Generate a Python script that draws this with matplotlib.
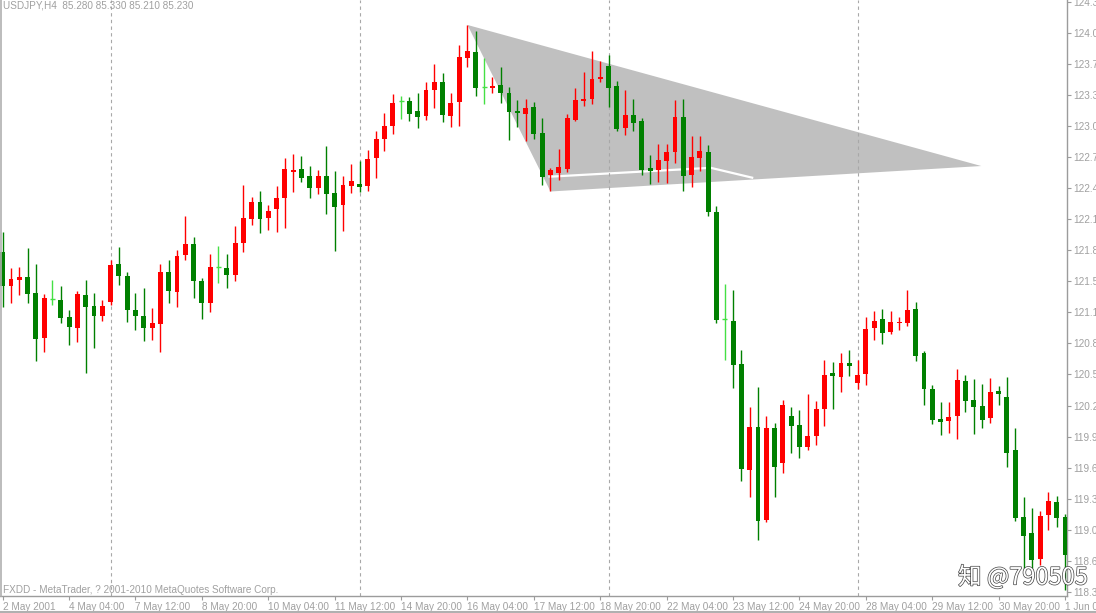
import matplotlib
matplotlib.use('Agg')
import matplotlib.pyplot as plt
import matplotlib.patheffects as pe
from matplotlib.patches import Polygon
from matplotlib.lines import Line2D
import numpy as np

# USDJPY H4 bars, 2 May 2001 .. 1 Jun 2001
opens = [121.80, 121.45, 121.51, 121.54, 121.38, 120.93, 121.32, 121.31, 121.14, 121.03,
         121.36, 121.25, 121.15, 121.29, 121.68, 121.55, 121.21, 121.15, 121.03, 121.07,
         121.59, 121.39, 121.77, 121.88, 121.50, 121.28, 121.64, 121.63, 121.56, 121.89,
         122.13, 122.30, 122.14, 122.23, 122.34, 122.61, 122.64, 122.57, 122.45, 122.57,
         122.39, 122.27, 122.47, 122.49, 122.47, 122.75, 122.94, 123.07, 123.33, 123.33,
         123.23, 123.17, 123.44, 123.52, 123.17, 123.32, 123.76, 123.82, 123.47, 123.46,
         123.49, 123.41, 123.23, 123.20, 123.27, 123.00, 122.58, 122.60, 122.64, 123.13,
         123.33, 123.35, 123.55, 123.68, 123.48, 123.05, 123.19, 123.12, 122.65, 122.63,
         122.72, 122.81, 123.16, 122.58, 122.75, 122.81, 122.20, 121.12, 121.10, 120.66,
         119.59, 120.02, 119.08, 120.01, 119.66, 120.14, 120.04, 119.82, 119.93, 120.21,
         120.57, 120.53, 120.67, 120.47, 120.56, 121.03, 121.12, 120.99, 121.08, 121.08,
         121.22, 120.77, 120.41, 120.11, 120.08, 120.14, 120.49, 120.30, 120.24, 120.12,
         120.39, 120.33, 119.79, 119.11, 118.95, 118.69, 119.13, 119.26, 119.11]
highs = [122.00, 121.63, 121.64, 121.84, 121.68, 121.37, 121.51, 121.45, 121.21, 121.40,
         121.51, 121.38, 121.31, 121.72, 121.85, 121.59, 121.38, 121.43, 121.23, 121.68,
         121.72, 121.82, 122.16, 121.95, 121.53, 121.78, 121.86, 121.78, 122.06, 122.48,
         122.35, 122.42, 122.27, 122.47, 122.75, 122.79, 122.77, 122.67, 122.63, 122.87,
         122.62, 122.57, 122.69, 122.72, 122.83, 123.02, 123.21, 123.40, 123.38, 123.37,
         123.41, 123.52, 123.70, 123.61, 123.41, 123.89, 124.10, 124.04, 123.76, 123.57,
         123.67, 123.47, 123.34, 123.35, 123.32, 123.15, 122.65, 122.84, 123.20, 123.46,
         123.62, 123.83, 123.73, 123.79, 123.53, 123.44, 123.35, 123.15, 122.78, 122.89,
         122.89, 123.34, 123.35, 122.97, 122.97, 122.88, 122.26, 121.47, 121.41, 120.80,
         120.23, 120.43, 120.14, 120.06, 120.30, 120.23, 120.20, 120.36, 120.29, 120.70,
         120.68, 120.77, 120.80, 120.70, 121.14, 121.20, 121.22, 121.20, 121.14, 121.41,
         121.29, 120.79, 120.45, 120.28, 120.28, 120.61, 120.55, 120.51, 120.46, 120.52,
         120.44, 120.53, 120.01, 119.31, 119.20, 119.17, 119.37, 119.33, 119.14]
lows = [121.24, 121.28, 121.36, 121.28, 120.69, 120.78, 121.26, 121.08, 120.85, 120.89,
        120.57, 120.82, 121.10, 121.26, 121.46, 121.09, 121.01, 120.90, 120.91, 120.78,
        121.28, 121.24, 121.72, 121.33, 121.12, 121.19, 121.48, 121.43, 121.50, 121.80,
        122.07, 121.99, 122.02, 122.00, 122.04, 122.40, 122.51, 122.34, 122.38, 122.18,
        121.81, 122.01, 122.39, 122.40, 122.42, 122.55, 122.82, 122.99, 123.14, 123.12,
        123.05, 123.13, 123.26, 123.11, 123.06, 123.07, 123.67, 123.38, 123.30, 123.41,
        123.31, 122.93, 123.06, 122.92, 122.94, 122.48, 122.41, 122.53, 122.61, 123.12,
        123.28, 123.30, 123.52, 123.27, 123.02, 122.98, 123.02, 122.58, 122.49, 122.51,
        122.50, 122.70, 122.41, 122.46, 122.62, 122.16, 121.08, 120.70, 120.42, 119.48,
        119.31, 118.88, 119.06, 119.31, 119.56, 119.76, 119.71, 119.79, 119.84, 120.03,
        120.21, 120.38, 120.54, 120.41, 120.45, 120.91, 120.86, 120.97, 121.01, 121.05,
        120.69, 120.25, 120.05, 119.94, 119.96, 119.90, 120.18, 119.95, 120.01, 120.06,
        120.25, 119.62, 119.07, 118.58, 118.58, 118.63, 118.98, 119.01, 118.37]
closes = [121.45, 121.52, 121.54, 121.37, 120.92, 121.33, 121.32, 121.13, 121.04, 121.37,
          121.24, 121.15, 121.25, 121.67, 121.55, 121.21, 121.15, 121.03, 121.08, 121.59,
          121.40, 121.76, 121.88, 121.50, 121.28, 121.64, 121.64, 121.56, 121.89, 122.14,
          122.30, 122.13, 122.21, 122.34, 122.64, 122.63, 122.55, 122.45, 122.57, 122.38,
          122.25, 122.48, 122.52, 122.46, 122.74, 122.94, 123.07, 123.31, 123.33, 123.20,
          123.16, 123.44, 123.52, 123.18, 123.31, 123.77, 123.83, 123.46, 123.47, 123.48,
          123.41, 123.22, 123.21, 123.26, 122.99, 122.56, 122.63, 122.66, 123.15, 123.34,
          123.35, 123.55, 123.57, 123.46, 123.04, 123.18, 123.10, 122.63, 122.62, 122.73,
          122.81, 123.16, 122.57, 122.76, 122.82, 122.20, 121.11, 121.12, 120.65, 119.60,
          120.02, 119.07, 120.01, 119.62, 120.25, 120.03, 119.82, 119.93, 120.21, 120.55,
          120.54, 120.67, 120.64, 120.55, 121.02, 121.10, 120.98, 121.09, 121.09, 121.21,
          120.74, 120.41, 120.10, 120.07, 120.13, 120.50, 120.29, 120.23, 120.10, 120.38,
          120.36, 119.76, 119.10, 118.92, 118.68, 119.12, 119.27, 119.10, 118.73]

time_labels = ["2 May 2001", "4 May 04:00", "7 May 12:00", "8 May 20:00", "10 May 04:00",
               "11 May 12:00", "14 May 20:00", "16 May 04:00", "17 May 12:00", "18 May 20:00",
               "22 May 04:00", "23 May 12:00", "24 May 20:00", "28 May 04:00", "29 May 12:00",
               "30 May 20:00", "1 Jun 04:00"]
price_labels = ["124.345", "124.030", "123.715", "123.395", "123.080", "122.765", "122.450",
                "122.135", "121.820", "121.505", "121.190", "120.875", "120.560", "120.245",
                "119.930", "119.615", "119.300", "119.010", "118.685", "118.370"]
separator_bars = [13, 43, 73, 103]

# triangle object drawn on the chart: (bar, price)
triangle = [(56, 124.097), (117.9, 122.668), (66, 122.41)]
inner_line = [(65.9, 122.56), (85.3, 122.65), (90.3, 122.55)]

UP = '#ff0000'
DOWN = '#008000'
DOJI = '#44e044'
GRAY = '#9c9c9c'
FS = 7.2

fig = plt.figure(figsize=(10.96, 6.13), dpi=100)
ax = fig.add_axes([0, 17 / 613, 1066.5 / 1096, 596 / 613])
ax.set_xlim(-0.325, 128.17)
ax.set_ylim(118.312, 124.35)

# background object + grid
ax.add_patch(Polygon(triangle, closed=True, facecolor='#c0c0c0', edgecolor='none', zorder=1))
ax.plot([p[0] for p in inner_line], [p[1] for p in inner_line], color='white', lw=1.6, zorder=1.5)
for b in separator_bars:
    ax.axvline(b, color='#a8a8a8', lw=0.8, ls=(0, (3, 3)), zorder=1.6)

# candles
x = np.arange(len(opens))
o = np.array(opens); h = np.array(highs); l = np.array(lows); c = np.array(closes)
cols = np.where(c > o, UP, np.where(c < o, DOWN, DOJI))
ax.vlines(x, l, h, colors=cols, lw=1.0, zorder=3)
body = np.maximum(np.abs(c - o), 0.012)
isdoji = c == o
ax.bar(x[~isdoji], body[~isdoji], bottom=np.minimum(o, c)[~isdoji], width=0.6,
       color=cols[~isdoji], linewidth=0, zorder=4)
ax.hlines(o[isdoji], x[isdoji] - 0.3, x[isdoji] + 0.3, colors=DOJI, lw=1.0, zorder=4)

# axes styling
for s in ['top', 'left']:
    ax.spines[s].set_visible(False)
for s in ['bottom', 'right']:
    ax.spines[s].set_color(GRAY)
    ax.spines[s].set_linewidth(1.0)
ax.yaxis.tick_right()
ax.set_yticks(124.33 - 0.3145 * np.arange(len(price_labels)))
ax.set_yticklabels(price_labels)
ax.set_xticks(np.arange(len(time_labels)) * 8)
ax.set_xticklabels(time_labels, ha='left')
ax.tick_params(axis='both', colors=GRAY, labelcolor='#a0a0a0', labelsize=FS,
               length=3, width=0.8, direction='out', pad=1.5)
ax.tick_params(axis='y', pad=2)
for t in ax.get_xticklabels() + ax.get_yticklabels():
    t.set_fontfamily('Liberation Sans')

# frame lines of the window
fig.add_artist(Line2D([1.2 / 1096, 1.2 / 1096], [17 / 613, 1], color='#b0b0b0', lw=1.2))
fig.add_artist(Line2D([0, 1], [1.5 / 613, 1.5 / 613], color='#b0b0b0', lw=1.5))

fig.text(3 / 1096, 1 - 0.5 / 613, "USDJPY,H4  85.280 85.330 85.210 85.230", ha='left', va='top',
         fontsize=FS, color='#a0a0a0', family='Liberation Sans')
fig.text(3 / 1096, 1 - 595 / 613, "FXDD - MetaTrader, ? 2001-2010 MetaQuotes Software Corp.",
         ha='left', va='bottom', fontsize=FS, color='#a0a0a0', family='Liberation Sans')

# watermark
fig.text(958 / 1096, 1 - 577 / 613, "知 @790505", ha='left', va='center', fontsize=17,
         color='white', family=['Noto Sans CJK SC', 'DejaVu Sans'], weight='light',
         path_effects=[pe.withStroke(linewidth=1.0, foreground='#444444')])

fig.savefig('out.png', dpi=100)
